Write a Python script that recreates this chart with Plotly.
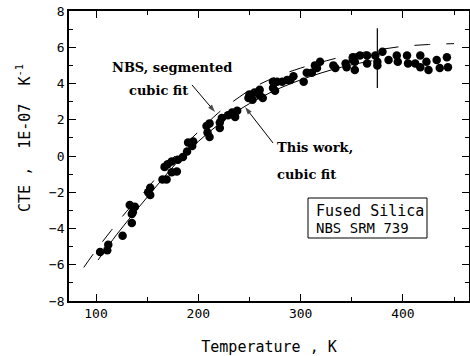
import plotly.graph_objects as go

# measured points (Temperature K, CTE 1E-07/K)
temp_pts = [104, 111, 112, 126, 135, 133, 138, 136, 135, 151, 153, 153, 165, 169, 167, 170,
            174, 174, 179, 180, 185, 189, 190, 195, 194, 208, 209, 211, 211, 221, 221, 223,
            229, 233, 236, 238, 249, 250, 253, 255, 260, 260, 263, 273, 273, 277, 275, 282,
            287, 290, 293, 303, 306, 311, 314, 316, 319, 332, 334, 344, 345, 351, 351, 353,
            353, 358, 365, 365, 373, 375, 375, 380, 386, 394, 395, 404, 405, 412, 417, 417,
            423, 425, 433, 436, 443, 444]
cte_pts = [-5.3, -5.2, -4.9, -4.4, -3.7, -2.7, -2.8, -3.1, -3.2, -2.0, -1.75, -2.15, -1.3, -1.3, -0.6, -0.45,
           -0.9, -0.3, -0.85, -0.2, -0.05, 0.25, 0.75, 0.8, 0.55, 1.65, 1.3, 1.05, 1.8, 1.85, 1.55, 2.1,
           2.25, 2.4, 2.15, 2.5, 3.2, 3.4, 3.1, 3.5, 3.35, 3.65, 3.2, 3.75, 4.1, 4.1, 3.6, 4.1,
           4.2, 4.2, 4.4, 4.1, 4.6, 4.6, 5.0, 4.85, 5.2, 5.0, 4.85, 5.1, 4.9, 5.3, 5.45, 5.2,
           4.75, 5.55, 5.55, 5.1, 5.55, 5.2, 5.0, 5.75, 5.3, 5.55, 5.2, 5.55, 5.1, 5.1, 5.55, 4.9,
           5.2, 4.75, 5.3, 4.85, 5.45, 4.9]

# "This work, cubic fit" (solid)
fit_t = [102, 120, 140, 160, 180, 200, 220, 240, 260, 280, 300, 320, 340, 360, 370]
fit_c = [-5.74, -4.35, -2.95, -1.6, -0.3, 0.8, 1.75, 2.55, 3.2, 3.75, 4.2, 4.58, 4.9, 5.15, 5.25]

# "NBS, segmented cubic fit" (dashed)
nbs_t = [88, 100, 115, 130, 146, 165, 185, 205, 220, 240, 258, 280, 300, 325, 350, 375, 400, 425, 450]
nbs_c = [-6.15, -5.2, -4.1, -3.05, -2.05, -0.8, 0.5, 1.6, 2.4, 3.25, 3.9, 4.45, 4.85, 5.25, 5.6, 5.85, 6.05, 6.15, 6.2]

# vertical marker at 375 K
vline_t = [375, 375]
vline_c = [3.75, 7.05]

# label pointer arrows (tail -> tip)
arrow_nbs_t = [193.8, 216.3]
arrow_nbs_c = [3.92, 2.43]
arrow_fit_t = [273.0, 245.7]
arrow_fit_c = [0.72, 2.7]

x_ticks = [100, 200, 300, 400]
y_ticks = [-8, -6, -4, -2, 0, 2, 4, 6, 8]

fig = go.Figure()
fig.add_trace(go.Scatter(x=nbs_t, y=nbs_c, mode="lines", line=dict(color="black", width=1, dash="16px,16px"),
                         line_shape="spline", showlegend=False))
fig.add_trace(go.Scatter(x=fit_t, y=fit_c, mode="lines", line=dict(color="black", width=1),
                         line_shape="spline", showlegend=False))
fig.add_trace(go.Scatter(x=temp_pts, y=cte_pts, mode="markers",
                         marker=dict(color="black", size=8.5, line=dict(width=0)), showlegend=False))
fig.add_trace(go.Scatter(x=vline_t, y=vline_c, mode="lines", line=dict(color="black", width=1.2),
                         showlegend=False))
for at, ac in ((arrow_nbs_t, arrow_nbs_c), (arrow_fit_t, arrow_fit_c)):
    fig.add_trace(go.Scatter(x=at, y=ac, mode="lines+markers", line=dict(color="black", width=1),
                             marker=dict(symbol=["circle", "arrow"], size=[0, 8], angleref="previous",
                                         color="black", line=dict(width=0)),
                             showlegend=False, hoverinfo="skip"))

tickfont = dict(family="DejaVu Sans Mono", size=13, color="black")
fig.update_layout(
    width=470, height=356,
    margin=dict(l=69, r=1, t=11, b=55),
    paper_bgcolor="white", plot_bgcolor="white",
    xaxis=dict(range=[73.6, 464.6], tickvals=x_ticks, ticks="inside", ticklen=7, tickwidth=1,
               tickcolor="black", minor=dict(dtick=50, tick0=0, ticks="inside", ticklen=4, tickcolor="black"),
               showgrid=False, zeroline=False, showline=True, linecolor="black", linewidth=1.5,
               mirror="ticks", tickfont=tickfont, automargin=False,
               title=dict(text="Temperature , K", standoff=21,
                          font=dict(family="DejaVu Sans Mono", size=15, color="black"))),
    yaxis=dict(range=[-8, 8], tickvals=y_ticks, ticks="inside", ticklen=7, tickwidth=1,
               tickcolor="black", minor=dict(dtick=1, ticks="inside", ticklen=4, tickcolor="black"),
               showgrid=False, zeroline=False, showline=True, linecolor="black", linewidth=1.5,
               mirror="ticks", tickfont=tickfont, automargin=False,
               title=dict(text="&nbsp;&nbsp;&nbsp;&nbsp;CTE ,&nbsp; 1E-07&nbsp; K<sup>-1</sup>", standoff=15,
                          font=dict(family="DejaVu Sans Mono", size=15, color="black"))),
)

serif = dict(family="DejaVu Serif", size=13, color="black", weight="bold")
W0, W1, H0, H1 = 69, 469, 11, 301


def px(xp, yp):
    return (xp - W0) / (W1 - W0), (H1 - yp) / (H1 - H0)


ann = []
for text, xp, yp in (("NBS, segmented", 110, 68), ("cubic fit", 127, 90),
                     ("This work,", 275, 147), ("cubic fit", 275, 174)):
    xx, yy = px(xp, yp)
    ann.append(dict(text=text, x=xx, y=yy, xref="paper", yref="paper", showarrow=False, font=serif,
                    xanchor="left", yanchor="middle"))

xx, yy = px(314, 211)
ann.append(dict(text="Fused Silica", x=xx, y=yy, xref="paper", yref="paper", showarrow=False,
                font=dict(family="DejaVu Sans Mono", size=15, color="black"), xanchor="left", yanchor="middle"))
xx, yy = px(314, 228)
ann.append(dict(text="NBS SRM 739", x=xx, y=yy, xref="paper", yref="paper", showarrow=False,
                font=dict(family="DejaVu Sans Mono", size=14, color="black"), xanchor="left", yanchor="middle"))
fig.update_layout(annotations=ann)

bx0, by0 = px(308, 238)
bx1, by1 = px(427, 198)
fig.add_shape(type="rect", xref="paper", yref="paper", x0=bx0, x1=bx1, y0=by0, y1=by1,
              line=dict(color="black", width=1))

fig.write_html("out.html")
